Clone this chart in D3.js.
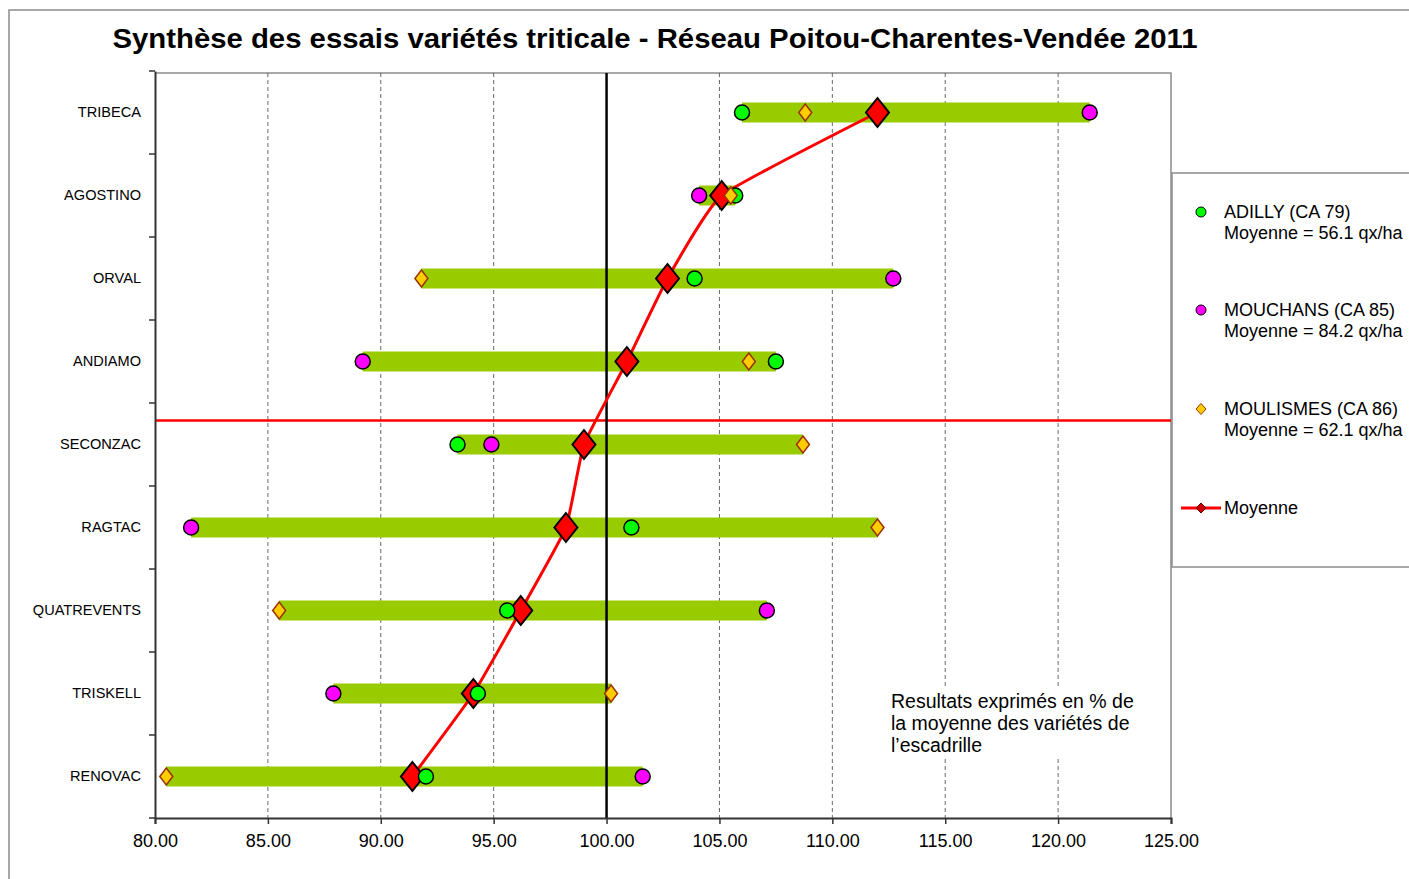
<!DOCTYPE html>
<html><head><meta charset="utf-8">
<script src="https://cdn.jsdelivr.net/npm/d3@7"></script>
<style>
html,body{margin:0;padding:0;background:#fff;}
svg{display:block;font-family:"Liberation Sans",Arial,sans-serif;}
</style></head>
<body>
<svg id="chart" width="1409" height="879"></svg>
<script>
// ---- data ----
const categories = ["TRIBECA","AGOSTINO","ORVAL","ANDIAMO","SECONZAC","RAGTAC","QUATREVENTS","TRISKELL","RENOVAC"];
const adilly    = [106.0, 105.7, 103.9, 107.5, 93.4, 101.1, 95.6, 94.3, 92.0];
const mouchans  = [121.4, 104.1, 112.7, 89.2, 94.9, 81.6, 107.1, 87.9, 101.6];
const moulismes = [108.8, 105.5, 91.8, 106.3, 108.7, 112.0, 85.5, 100.2, 80.5];
const moyenne   = [112.0, 105.1, 102.7, 100.9, 99.0, 98.2, 96.2, 94.1, 91.4];
const xTicks = [80,85,90,95,100,105,110,115,120,125];
const legendItems = [
  {name:"ADILLY (CA 79)", sub:"Moyenne = 56.1 qx/ha", type:"circle", fill:"#00ff00"},
  {name:"MOUCHANS (CA 85)", sub:"Moyenne = 84.2 qx/ha", type:"circle", fill:"#ff00ff"},
  {name:"MOULISMES (CA 86)", sub:"Moyenne = 62.1 qx/ha", type:"diamond", fill:"#ffcc00"},
  {name:"Moyenne", sub:null, type:"line", fill:"#ff0000"}
];
const titleText = "Synthèse des essais variétés triticale - Réseau Poitou-Charentes-Vendée  2011";
const noteLines = ["Resultats exprimés en % de","la moyenne des variétés de","l’escadrille"];
const referenceValue = 100;

// ---- layout ----
const svg = d3.select("#chart");
const L = 155, R = 1171, T = 71, B = 818;
const x = d3.scaleLinear().domain([80,125]).range([L,R]);
const y = d3.scaleBand().domain(categories).range([T,B]).padding(0);
const bw = y.bandwidth();
const cy = c => y(c) + bw/2;

// outer chart border
svg.append("path").attr("d",`M9,879 V10 H1409`).attr("fill","none").attr("stroke","#8c8c8c").attr("stroke-width",1.5);

// title
svg.append("text").attr("x",655).attr("y",48).attr("text-anchor","middle")
  .attr("font-size",27).attr("font-weight","bold").attr("fill","#000")
  .attr("textLength",1085).attr("lengthAdjust","spacingAndGlyphs").text(titleText);

// plot border (top & right)
svg.append("path").attr("d",`M${L},${T+2} H${R} V${B}`).attr("fill","none").attr("stroke","#8c8c8c").attr("stroke-width",1.5);

// gridlines
svg.append("g").selectAll("line").data(xTicks.filter(t=>t>80 && t<125 && t!==referenceValue)).join("line")
  .attr("x1",d=>x(d)).attr("x2",d=>x(d)).attr("y1",T+2).attr("y2",B)
  .attr("stroke","#444").attr("stroke-width",0.8).attr("stroke-dasharray","4,3");

// note box (white background interrupts gridlines)
svg.append("rect").attr("x",884).attr("y",686).attr("width",262).attr("height",72).attr("fill","#fff");
const note = svg.append("text").attr("font-size",19.5).attr("fill","#000");
noteLines.forEach((t,i)=>note.append("tspan").attr("x",891).attr("y",708+i*22).text(t));

// red horizontal separator between ANDIAMO and SECONZAC
svg.append("line").attr("x1",L).attr("x2",R).attr("y1",cy("ANDIAMO")+0.71*bw).attr("y2",cy("ANDIAMO")+0.71*bw)
  .attr("stroke","#ff0000").attr("stroke-width",2.5);

// green range bars
const rows = categories.map((c,i)=>({c, a:adilly[i], m:mouchans[i], o:moulismes[i], moy:moyenne[i]}));
svg.append("g").selectAll("rect").data(rows).join("rect")
  .attr("x",d=>x(Math.min(d.a,d.m,d.o))).attr("width",d=>x(Math.max(d.a,d.m,d.o))-x(Math.min(d.a,d.m,d.o)))
  .attr("y",d=>cy(d.c)-10).attr("height",20).attr("fill","#99cc00");

// reference line at 100
svg.append("line").attr("x1",x(referenceValue)).attr("x2",x(referenceValue)).attr("y1",T+2).attr("y2",B)
  .attr("stroke","#000").attr("stroke-width",2.5);

// mean line (lightly smoothed)
const line = d3.line().x(d=>x(d.moy)).y(d=>cy(d.c)).curve(d3.curveCardinal.tension(0.6));
svg.append("path").datum(rows).attr("d",line).attr("fill","none").attr("stroke","#ff0000").attr("stroke-width",3);

const diamond = (w,h)=>`M0,${-h} L${w},0 L0,${h} L${-w},0 Z`;

// mean markers
svg.append("g").selectAll("path").data(rows).join("path")
  .attr("transform",d=>`translate(${x(d.moy)},${cy(d.c)})`).attr("d",diamond(11.5,14.5))
  .attr("fill","#ff0000").attr("stroke","#000").attr("stroke-width",2);
// points
svg.append("g").selectAll("circle").data(rows).join("circle")
  .attr("cx",d=>x(d.a)).attr("cy",d=>cy(d.c)).attr("r",7.5)
  .attr("fill","#00ff00").attr("stroke","#000").attr("stroke-width",1.5);
svg.append("g").selectAll("circle").data(rows).join("circle")
  .attr("cx",d=>x(d.m)).attr("cy",d=>cy(d.c)).attr("r",7.5)
  .attr("fill","#ff00ff").attr("stroke","#000").attr("stroke-width",1.5);
svg.append("g").selectAll("path").data(rows).join("path")
  .attr("transform",d=>`translate(${x(d.o)},${cy(d.c)})`).attr("d",diamond(6.5,8.5))
  .attr("fill","#ffcc00").attr("stroke","#993300").attr("stroke-width",1.5);

// axes
const xAxis = svg.append("g").attr("transform",`translate(0,${B})`)
  .call(d3.axisBottom(x).tickValues(xTicks).tickFormat(d3.format(".2f")).tickSize(6).tickPadding(10));
xAxis.select(".domain").attr("stroke","#333").attr("stroke-width",2);
xAxis.selectAll(".tick line").attr("stroke","#333").attr("stroke-width",1.5);
xAxis.selectAll("text").attr("font-size",18).attr("fill","#000").attr("font-family","Liberation Sans, Arial, sans-serif");

const yAxis = svg.append("g").attr("transform",`translate(${L},0)`)
  .call(d3.axisLeft(y).tickSize(0).tickPadding(14));
yAxis.select(".domain").attr("stroke","#333").attr("stroke-width",2);
yAxis.selectAll("text").attr("font-size",15.5).attr("fill","#000").attr("font-family","Liberation Sans, Arial, sans-serif")
  .each(function(){ const w=this.getComputedTextLength(); d3.select(this).attr("textLength",w*0.94).attr("lengthAdjust","spacingAndGlyphs"); });
// category boundary ticks
svg.append("g").selectAll("line").data(d3.range(categories.length+1)).join("line")
  .attr("x1",L-6).attr("x2",L).attr("y1",i=>T+i*bw).attr("y2",i=>T+i*bw)
  .attr("stroke","#333").attr("stroke-width",1.5);

// legend
const lg = svg.append("g");
lg.append("rect").attr("x",1172).attr("y",173).attr("width",260).attr("height",394)
  .attr("fill","#fff").attr("stroke","#8c8c8c").attr("stroke-width",1.5);
const ly = [212,310,409,508];
legendItems.forEach((it,i)=>{
  const g = lg.append("g").attr("transform",`translate(0,${ly[i]})`);
  if(it.type==="circle"){
    g.append("circle").attr("cx",1201).attr("cy",0).attr("r",5).attr("fill",it.fill).attr("stroke","#000").attr("stroke-width",1);
  } else if(it.type==="diamond"){
    g.append("path").attr("transform","translate(1201,0)").attr("d",diamond(5,5.5)).attr("fill",it.fill).attr("stroke","#993300").attr("stroke-width",1);
  } else {
    g.append("line").attr("x1",1181).attr("x2",1221).attr("y1",0).attr("y2",0).attr("stroke","#ff0000").attr("stroke-width",3);
    g.append("path").attr("transform","translate(1201,0)").attr("d",diamond(5,5)).attr("fill","#cc0000").attr("stroke","#660000").attr("stroke-width",1);
  }
  g.append("text").attr("x",1224).attr("y",6).attr("font-size",18).attr("fill","#000").text(it.name);
  if(it.sub) g.append("text").attr("x",1224).attr("y",27).attr("font-size",18).attr("fill","#000").text(it.sub);
});
</script>
</body></html>
